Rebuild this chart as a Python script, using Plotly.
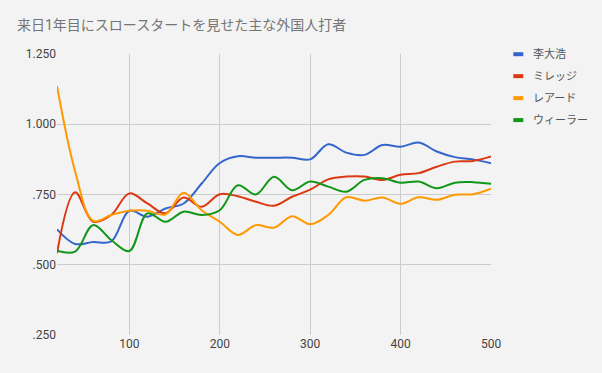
import plotly.graph_objects as go

at_bats = [20, 40, 60, 80, 100, 120, 140, 160, 180, 200, 220, 240, 260,
           280, 300, 320, 340, 360, 380, 400, 420, 440, 460, 480, 500]

lee = [.626, .574, .581, .583, .692, .671, .700, .718, .789, .862, .886, .881, .881,
       .881, .875, .929, .899, .891, .926, .920, .935, .903, .883, .875, .861]
milledge = [.541, .758, .653, .677, .754, .718, .683, .739, .706, .751, .744, .724, .710,
            .742, .767, .804, .814, .814, .802, .820, .826, .849, .867, .869, .885]
laird = [1.136, .833, .656, .677, .692, .692, .679, .756, .694, .653, .606, .641, .632,
         .673, .644, .677, .740, .728, .739, .717, .740, .731, .749, .751, .771]
wheeler = [.550, .547, .641, .588, .549, .683, .653, .689, .677, .694, .783, .750, .813,
           .765, .796, .778, .760, .802, .808, .792, .796, .772, .792, .794, .788]

names = ["李大浩", "ミレッジ", "レアード", "ウィーラー"]
series = [lee, milledge, laird, wheeler]
colors = ["#3366cc", "#dc3912", "#ff9900", "#109618"]

y_ticks = [0.25, 0.5, 0.75, 1.0, 1.25]
y_labels = [".250", ".500", ".750", "1.000", "1.250"]
x_ticks = [100, 200, 300, 400, 500]
x_labels = ["100", "200", "300", "400", "500"]

FONT = "Roboto, 'Noto Sans CJK JP', sans-serif"
BG = "#f3f3f3"

L, R, T, B = 57, 490.7, 53.5, 335

fig = go.Figure()
for name, vals, col in zip(names, series, colors):
    fig.add_trace(go.Scatter(
        x=at_bats, y=vals, name=name, mode="lines",
        line=dict(color=col, width=2, shape="spline", smoothing=1.0),
        showlegend=False, hoverinfo="x+y+name",
    ))

# custom legend
for i, (name, col) in enumerate(zip(names, colors)):
    yp = 53.7 + i * 22.0
    yy = (B - yp) / (B - T)
    fig.add_shape(type="line", xref="paper", yref="paper",
                  x0=(513 - L) / (R - L), x1=(523 - L) / (R - L),
                  y0=yy, y1=yy,
                  line=dict(color=col, width=4), layer="above")
    fig.add_annotation(xref="paper", yref="paper",
                       x=(531 - L) / (R - L), y=yy,
                       text=name, showarrow=False, xanchor="left", yanchor="middle",
                       font=dict(family=FONT, size=11, color="#555555"))

fig.update_layout(
    width=602, height=373,
    paper_bgcolor=BG, plot_bgcolor=BG,
    margin=dict(l=L, r=602 - R, t=T, b=373 - B),
    title=dict(text="来日1年目にスロースタートを見せた主な外国人打者",
               x=17 / 602, xanchor="left", y=1 - 25.5 / 373, yanchor="middle",
               font=dict(family=FONT, size=14, color="#757575")),
    xaxis=dict(range=[20, 500], tickvals=x_ticks, ticktext=x_labels,
               showgrid=True, gridcolor="#cccccc", gridwidth=1,
               zeroline=False, showline=False, ticks="",
               tickfont=dict(family=FONT, size=12, color="#444444")),
    yaxis=dict(range=[0.25, 1.25], tickvals=y_ticks, ticktext=y_labels,
               showgrid=True, gridcolor="#cccccc", gridwidth=1,
               zeroline=False, showline=False, ticks="",
               tickfont=dict(family=FONT, size=12, color="#444444")),
    font=dict(family=FONT),
)

fig.write_html("out.html", config={"displayModeBar": False},
               post_script="document.body.style.margin='0';document.body.style.overflow='hidden';")
